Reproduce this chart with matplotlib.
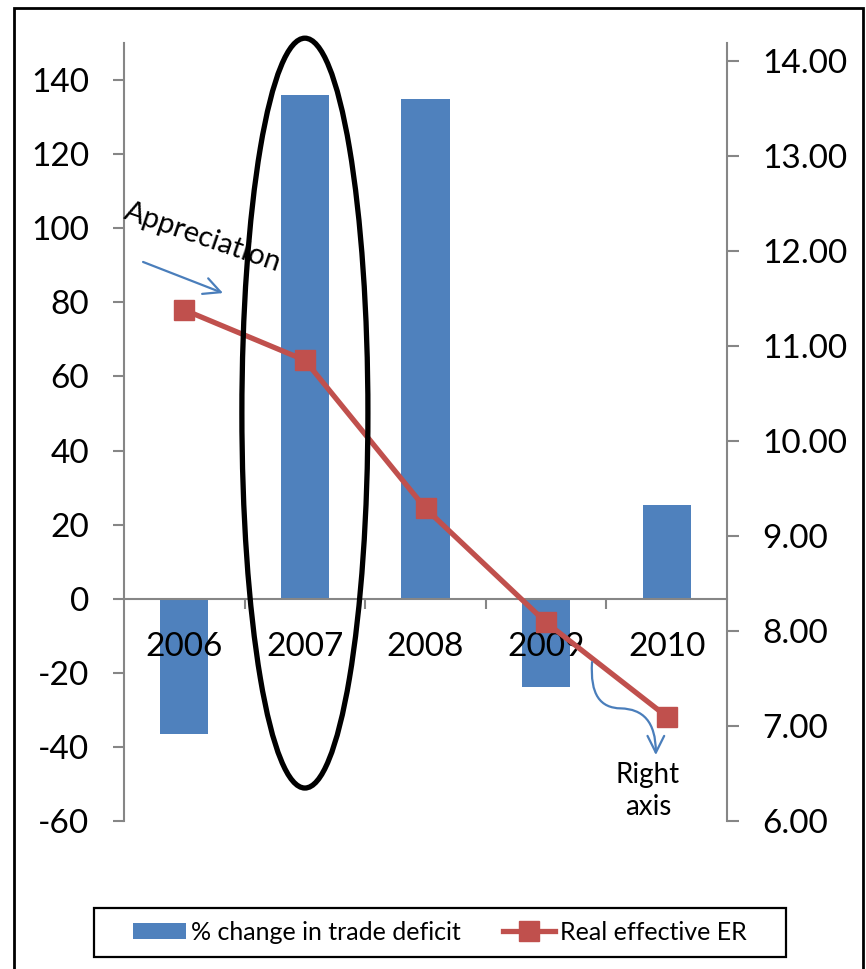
import numpy as np
import matplotlib
matplotlib.use("Agg")
import matplotlib.pyplot as plt
from matplotlib.patches import Ellipse, Rectangle, FancyArrowPatch
from matplotlib.path import Path
from matplotlib.lines import Line2D

plt.rcParams['font.family'] = ['Lato', 'DejaVu Sans']

years = ['2006', '2007', '2008', '2009', '2010']
trade_deficit_change = [-36.5, 136.0, 134.8, -23.7, 25.3]   # % change, left axis
real_effective_er = [11.38, 10.85, 9.29, 8.09, 7.10]      # right axis

left_ticks = [-60, -40, -20, 0, 20, 40, 60, 80, 100, 120, 140]
right_ticks = [6, 7, 8, 9, 10, 11, 12, 13, 14]

bar_color = '#4F81BD'
line_color = '#C0504D'
axis_gray = '#868686'

W, H = 866, 969
fig = plt.figure(figsize=(W / 100, H / 100), dpi=100)
ax = fig.add_axes([124 / W, 1 - 821 / H, (727 - 124) / W, (821 - 43) / H])
ax2 = ax.twinx()

x = np.arange(len(years))
# bars under the axis so the year labels stay readable
ax.bar(x, trade_deficit_change, width=0.4, color=bar_color, zorder=1)
ax.set_xlim(-0.5, len(years) - 0.5)
ax.set_ylim(-60, 150)
ax.set_yticks(left_ticks)
ax.set_yticklabels([str(v) for v in left_ticks])

# category axis sits on zero
for s in ['top', 'right']:
    ax.spines[s].set_visible(False)
ax.spines['bottom'].set_position(('data', 0))
ax.spines['bottom'].set_color(axis_gray)
ax.spines['bottom'].set_linewidth(1.5)
ax.spines['left'].set_color(axis_gray)
ax.spines['left'].set_linewidth(1.5)
ax.set_xticks(x)
ax.set_xticklabels(years)
ax.set_xticks(x[:-1] + 0.5, minor=True)
ax.tick_params(axis='x', which='major', length=0, pad=24, labelsize=24)
ax.tick_params(axis='x', which='minor', length=7.5, width=1.5, color=axis_gray, direction='out')
ax.tick_params(axis='y', length=8, width=1.5, color=axis_gray, pad=17, labelsize=24)

ax2.plot(x, real_effective_er, color=line_color, lw=3.8, marker='s', markersize=14,
         zorder=3)
ax2.set_ylim(6, 14.19)
ax2.set_yticks(right_ticks)
ax2.set_yticklabels(['%.2f' % v for v in right_ticks])
for s in ['top', 'left', 'bottom']:
    ax2.spines[s].set_visible(False)
ax2.spines['right'].set_color(axis_gray)
ax2.spines['right'].set_linewidth(1.5)
ax2.tick_params(axis='y', length=8.5, width=1.5, color=axis_gray, pad=17, labelsize=24)

# ellipse around 2007
ell = Ellipse((1.0, 50.1), 1.045, 202.4, transform=ax.transData, fill=False,
              edgecolor='black', lw=3.8, zorder=10, clip_on=False)
ax2.add_patch(ell)

# appreciation note
ax2.text(0.15, 97.4, 'Appreciation', transform=ax.transData, rotation=-19,
         ha='center', va='center', fontsize=21, zorder=11)
ax2.annotate('', xy=(0.321, 82.5), xytext=(-0.342, 90.9),
             xycoords=ax.transData, textcoords=ax.transData,
             arrowprops=dict(arrowstyle='->', color='#4A7EBB', lw=1.6,
                             mutation_scale=30, shrinkA=0, shrinkB=0))

# curved pointer to right axis
curve = Path([(3.381, -17.1), (3.364, -26.0), (3.45, -29.5), (3.62, -29.6),
              (3.80, -29.8), (3.91, -33.0), (3.91, -42.2)],
             [Path.MOVETO, Path.CURVE4, Path.CURVE4, Path.CURVE4,
              Path.CURVE4, Path.CURVE4, Path.CURVE4])
arr = FancyArrowPatch(path=curve, arrowstyle='->', color='#4A7EBB', lw=1.6,
                      mutation_scale=30, transform=ax.transData, zorder=11)
ax2.add_patch(arr)
ax2.text(3.845, -51.9, 'Right\naxis', transform=ax.transData, ha='center',
         va='center', fontsize=20, linespacing=1.3, zorder=11)

# legend
handles = [Rectangle((0, 0), 1, 1, facecolor=bar_color),
           Line2D([], [], color=line_color, lw=3.8, marker='s', markersize=14)]
fig.legend(handles, ['% change in trade deficit', 'Real effective ER'],
           loc='center', bbox_to_anchor=(440 / W, 1 - 932 / H), ncol=2,
           frameon=False, fontsize=18, handlelength=2.1, handleheight=0.6,
           handletextpad=0.2, columnspacing=1.7)
fig.patches.append(Rectangle((94 / W, 1 - 957 / H), (786 - 94) / W, 49 / H,
                             transform=fig.transFigure, fill=False,
                             edgecolor='black', lw=1.6))

# outer frame
fig.patches.append(Rectangle((14 / W, -0.05), (863 - 14) / W, 1.05 - 8 / H,
                             transform=fig.transFigure, fill=False,
                             edgecolor='black', lw=2))

fig.savefig('out.png', dpi=100)
